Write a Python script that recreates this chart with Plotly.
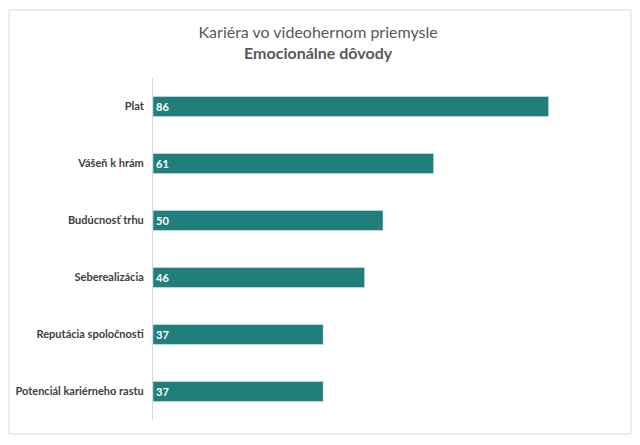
import plotly.graph_objects as go

categories = ["Plat", "Vášeň k hrám", "Budúcnosť trhu", "Seberealizácia",
              "Reputácia spoločnosti", "Potenciál kariérneho rastu"]
values = [86, 61, 50, 46, 37, 37]

title_line1 = "Kariéra vo videohernom priemysle"
title_line2 = "Emocionálne dôvody"

fig = go.Figure(go.Bar(
    x=values, y=categories, orientation="h",
    marker=dict(color="#217F7B"),
    width=0.35,
    text=values, textposition="inside", insidetextanchor="start",
    textfont=dict(family="Lato", size=11, color="white", weight="bold"),
    cliponaxis=False,
))

# page body has an 8px margin, so the figure is sized to fit inside the window
fig.update_layout(
    width=624, height=429,
    margin=dict(l=145, r=19, t=70, b=17),
    paper_bgcolor="white", plot_bgcolor="white",
    font=dict(family="Lato", color="#404040"),
    showlegend=False,
    uniformtext=dict(mode="show", minsize=11),
    title=dict(
        text=f"{title_line1}<br><b>{title_line2}</b>",
        x=0.497, xanchor="center", y=0.929, yanchor="top",
        font=dict(family="Lato", size=16, color="#595959"),
    ),
    xaxis=dict(range=[0, 100], visible=False, fixedrange=True),
    yaxis=dict(
        autorange="reversed", showgrid=False, ticks="", ticklen=0,
        showline=True, linecolor="#D9D9D9", linewidth=1,
        tickfont=dict(family="Lato", size=11, color="#404040", weight="bold"),
        ticklabelstandoff=6, automargin=False,
    ),
    shapes=[dict(type="rect", xref="paper", yref="paper",
                 x0=-0.313, x1=1.039, y0=-0.041, y1=1.199,
                 line=dict(color="#D9D9D9", width=1))],
)

fig.write_html("out.html")
